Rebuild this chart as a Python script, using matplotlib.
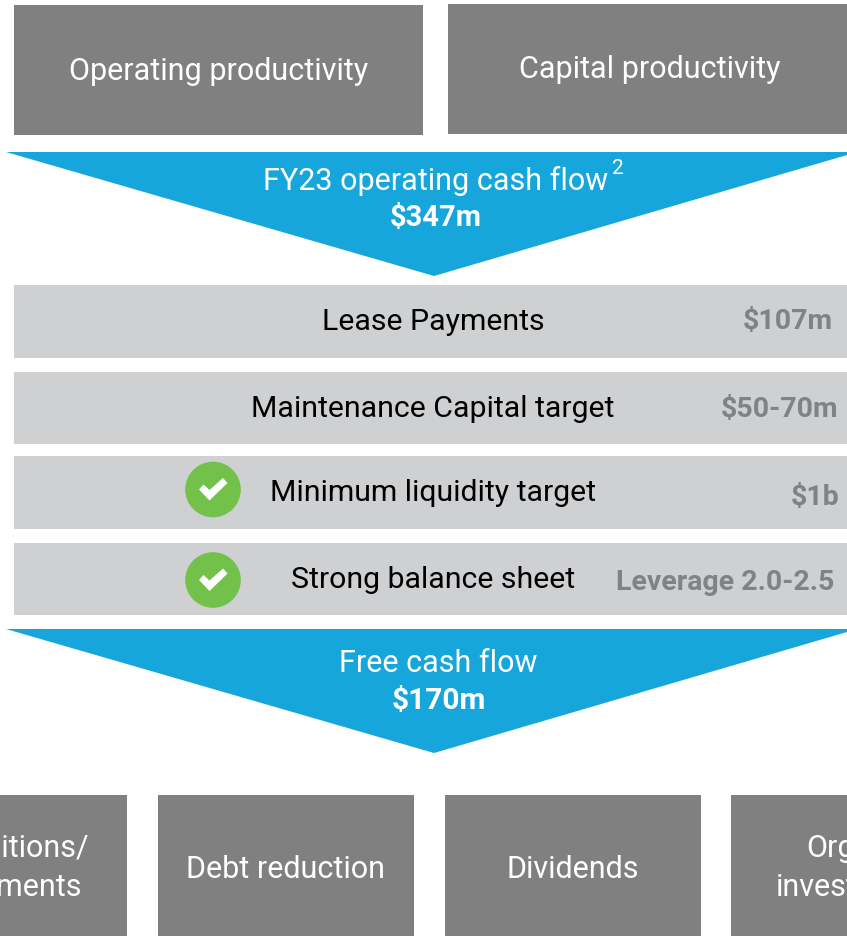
"""
Diagrama do fluxo de caixa: produtividade, fluxo operacional, deduções e alocação.
"""
import matplotlib
matplotlib.use('Agg')
import matplotlib.pyplot as plt
import matplotlib.patches as patches

FONTE = 'Roboto'
CINZA = '#808080'
CINZA_CLARO = '#cfd0d2'
AZUL = '#16a6db'
VERDE = '#72c14a'
TEXTO_VALOR = '#808285'

# Textos do diagrama
caixas_topo = ['Operating productivity', 'Capital productivity']
fluxo_titulos = ['FY23 operating cash flow', 'Free cash flow']
fluxo_valores = ['$347m', '$170m']
linhas_rotulos = ['Lease Payments', 'Maintenance Capital target',
                  'Minimum liquidity target', 'Strong balance sheet']
linhas_valores = ['$107m', '$50-70m', '$1b', 'Leverage 2.0-2.5']
linhas_check = [False, False, True, True]
caixas_base = ['Acquisitions/\ninvestments', 'Debt reduction', 'Dividends',
               'Organic\ninvestments']

fig = plt.figure(figsize=(8.47, 9.36), dpi=100)
ax = fig.add_axes([0, 0, 1, 1])
ax.set_xlim(0, 847)
ax.set_ylim(936, 0)
ax.axis('off')


def caixa(x0, y0, x1, y1, cor):
    ax.add_patch(patches.Rectangle((x0, y0), x1 - x0, y1 - y0, facecolor=cor,
                                   edgecolor='none', clip_on=True))


def seta(y0, y1):
    ax.add_patch(patches.Polygon([(6, y0), (847, y0), (847, y0 + 3), (434, y1), (6, y0)],
                                 closed=True, facecolor=AZUL, edgecolor='none'))


def check(cx, cy):
    ax.add_patch(patches.Circle((cx, cy), 27.8, facecolor=VERDE, edgecolor='none'))
    pontos = [(-14, 0), (-9.5, -5), (-3.5, 0.5), (10, -11.5), (14.5, -6.5), (-3.5, 11)]
    ax.add_patch(patches.Polygon([(cx + px, cy + py) for px, py in pontos],
                                 closed=True, facecolor='white', edgecolor='none'))


def texto(x, y, s, tam, cor='white', peso='normal', ha='center'):
    ax.text(x, y, s, fontsize=tam, color=cor, fontweight=peso, ha=ha, va='center',
            family=FONTE, linespacing=1.4)


# Caixas superiores
caixa(14, 5, 423, 135, CINZA)
caixa(448, 4, 847, 134, CINZA)
texto(218.5, 71, caixas_topo[0], 22)
texto(650, 69, caixas_topo[1], 22)

# Setas azuis
seta(152, 276)
seta(629, 753)
texto(435.5, 181, fluxo_titulos[0], 22)
ax.text(612, 169, '2', fontsize=15, color='white', ha='left', va='center',
        family=FONTE)
texto(436, 218, fluxo_valores[0], 21, peso='bold')
texto(438, 663, fluxo_titulos[1], 22)
texto(439, 701, fluxo_valores[1], 21.5, peso='bold')

# Faixas intermediárias
faixas_y = [(285, 358), (372, 444), (456, 529), (543, 615)]
rotulos_y = [322, 409, 493, 580]
valores_x = [833, 838, 839, 834]
valores_y = [322, 409, 498, 583]
checks_y = [None, None, 489.5, 580]
for i, (y0, y1) in enumerate(faixas_y):
    caixa(14, y0, 847, y1, CINZA_CLARO)
    texto(433, rotulos_y[i], linhas_rotulos[i], 21.8, cor='black')
    texto(valores_x[i], valores_y[i], linhas_valores[i], 20.5, cor=TEXTO_VALOR,
          peso='bold', ha='right')
    if linhas_check[i]:
        check(213, checks_y[i])

# Caixas inferiores (cortadas pela borda da figura)
base_x = [(-129, 127), (158, 414), (445, 701), (731, 987)]
for i, (x0, x1) in enumerate(base_x):
    caixa(x0, 795, x1, 960, CINZA)
    yt = 868 if '\n' in caixas_base[i] else 869
    texto((x0 + x1) / 2, yt, caixas_base[i], 22)

fig.savefig('out.png', dpi=100)
